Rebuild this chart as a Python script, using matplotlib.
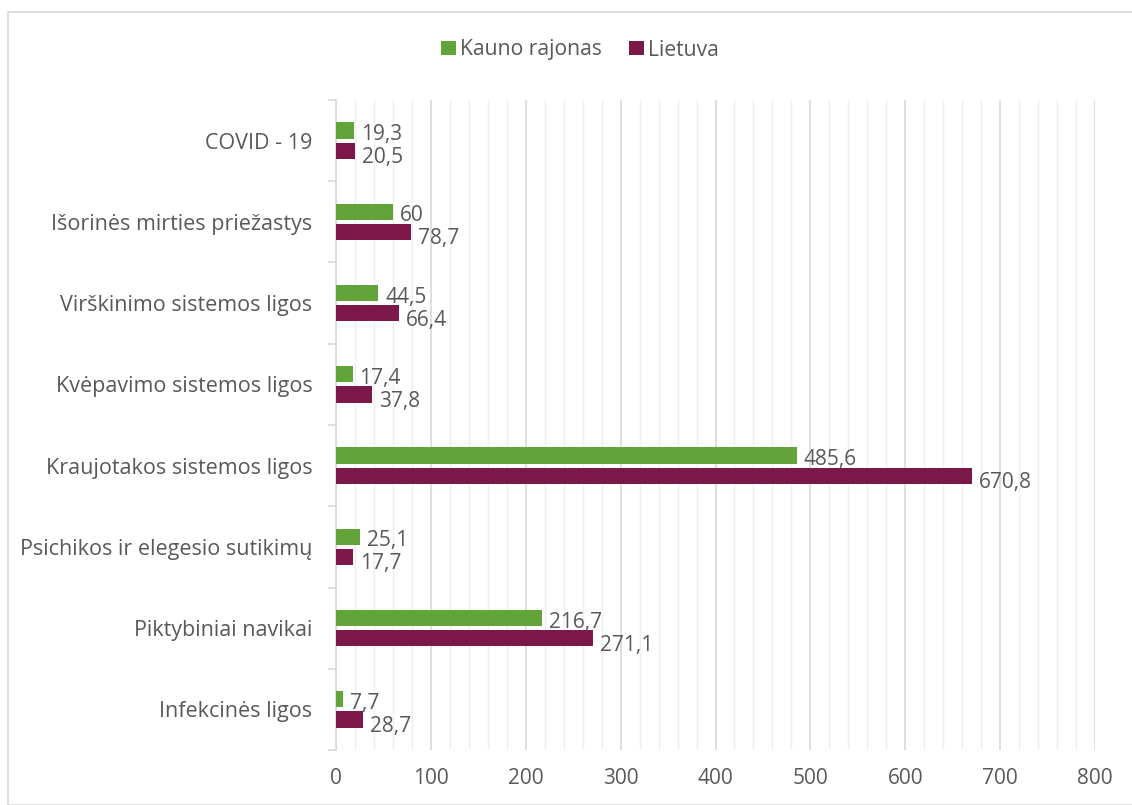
import numpy as np
import matplotlib.pyplot as plt
from matplotlib.patches import Rectangle

# ----------------------
# data
# ----------------------
categories = [
    "COVID - 19",
    "Išorinės mirties priežastys",
    "Virškinimo sistemos ligos",
    "Kvėpavimo sistemos ligos",
    "Kraujotakos sistemos ligos",
    "Psichikos ir elegesio sutikimų",
    "Piktybiniai navikai",
    "Infekcinės ligos",
]
kauno_rajonas = [19.3, 60, 44.5, 17.4, 485.6, 25.1, 216.7, 7.7]
lietuva = [20.5, 78.7, 66.4, 37.8, 670.8, 17.7, 271.1, 28.7]

green = "#62a43a"
maroon = "#7b1749"
text_col = "#595959"

plt.rcParams["font.family"] = ["Open Sans", "DejaVu Sans"]

fig = plt.figure(figsize=(11.32, 8.05), dpi=100)
ax = fig.add_axes([336 / 1132, 1 - 750 / 805, (1095 - 336) / 1132, (750 - 100) / 805])

y = np.arange(len(categories))
h = 0.2
off = 0.125

b1 = ax.barh(y - off, kauno_rajonas, height=h, color=green, label="Kauno rajonas", zorder=3)
b2 = ax.barh(y + off, lietuva, height=h, color=maroon, label="Lietuva", zorder=3)

# value labels just right of each bar
for bars, vals, dy in ((b1, kauno_rajonas, 3), (b2, lietuva, 5)):
    for rect, v in zip(bars, vals):
        txt = f"{v:g}".replace(".", ",")
        ax.annotate(txt, (v, rect.get_y() + rect.get_height() / 2),
                    xytext=(5, -dy), textcoords="offset points",
                    ha="left", va="center", fontsize=15, color=text_col, zorder=4)

ax.set_xlim(0, 800)
ax.set_ylim(len(categories) - 0.5, -0.5)
ax.set_xticks(np.arange(0, 801, 100))
ax.set_xticks(np.arange(0, 801, 20), minor=True)
ax.grid(axis="x", which="major", color="#d9d9d9", linewidth=1.2, zorder=0)
ax.grid(axis="x", which="minor", color="#efefef", linewidth=1.0, zorder=0)

ax.set_yticks(y)
ax.set_yticklabels(categories, fontsize=15.5, color=text_col)
ax.set_yticks(np.arange(-0.5, len(categories)), minor=True)
ax.tick_params(axis="y", which="major", length=0, pad=17)
ax.tick_params(axis="y", which="minor", length=6, color="#d9d9d9", width=1.2)
ax.tick_params(axis="x", which="both", length=0, labelsize=15, labelcolor=text_col, pad=13)

for s in ("top", "right", "bottom"):
    ax.spines[s].set_visible(False)
ax.spines["left"].set_color("#d9d9d9")
ax.spines["left"].set_linewidth(1.2)

fig.legend(handles=[b1, b2], loc="center", bbox_to_anchor=(580 / 1132, 1 - 50 / 805),
           ncol=2, frameon=False, fontsize=15.2, labelcolor=text_col,
           handlelength=0.7, handleheight=0.7, handletextpad=0.2, columnspacing=1.3)

# outer chart border
fig.patches.append(Rectangle((8 / 1132, 0), 1.2, 1 - 12 / 805, transform=fig.transFigure,
                             fill=False, edgecolor="#d9d9d9", linewidth=1.2))

fig.savefig("out.png", dpi=100)
